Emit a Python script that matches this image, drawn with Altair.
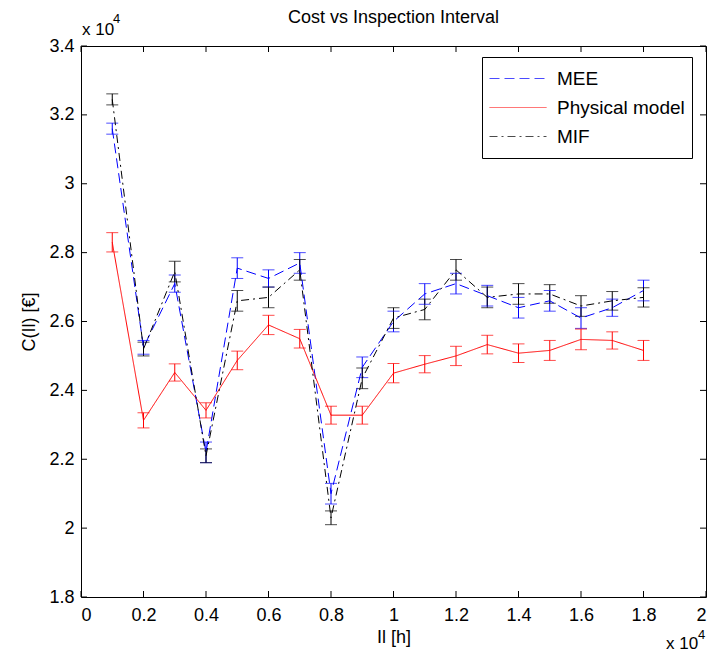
import altair as alt
import pandas as pd

# ---------------- data (real units; axes show values x 10^4) ----------------
inspection_interval = [1000, 2000, 3000, 4000, 5000, 6000, 7000, 8000, 9000,
                       10000, 11000, 12000, 13000, 14000, 15000, 16000, 17000, 18000]
series_names = ["MEE", "Physical model", "MIF"]

mee_cost = [31600, 25250, 27100, 22200, 27550, 27250, 27700, 21000, 24670,
            26000, 26800, 27100, 26750, 26400, 26600, 26100, 26400, 26900]
mee_err = [160, 200, 250, 300, 300, 250, 300, 300, 300,
           300, 300, 300, 300, 300, 300, 300, 250, 300]

phys_cost = [28300, 23130, 24520, 23420, 24870, 25900, 25500, 23280, 23280,
             24500, 24760, 25000, 25330, 25080, 25160, 25480, 25450, 25160]
phys_err = [280, 220, 250, 220, 270, 280, 270, 260, 260,
            280, 250, 280, 270, 270, 290, 300, 250, 290]

mif_cost = [32450, 25200, 27450, 22100, 26600, 26700, 27500, 20300, 24350,
            26100, 26350, 27500, 26700, 26800, 26800, 26450, 26600, 26700]
mif_err = [160, 200, 300, 200, 300, 300, 300, 200, 300,
           300, 300, 300, 300, 300, 270, 300, 270, 280]

x_ticks = [0, 2000, 4000, 6000, 8000, 10000, 12000, 14000, 16000, 18000, 20000]
y_ticks = [18000, 20000, 22000, 24000, 26000, 28000, 30000, 32000, 34000]

series_colors = ["#0000FF", "#FF0000", "#000000"]
series_dashes = [[10, 5], [1, 0], [8, 4, 2, 4]]

# ---------------- build table ----------------
rows = []
for name, vals, errs in zip(series_names, [mee_cost, phys_cost, mif_cost],
                            [mee_err, phys_err, mif_err]):
    for xv, v, e in zip(inspection_interval, vals, errs):
        rows.append({"x": xv, "series": name, "cost": v, "lo": v - e, "hi": v + e})
df = pd.DataFrame(rows)

W, H = 625, 551
FONT = "Liberation Sans"

xs = alt.Scale(domain=[0, 20000], nice=False, zero=False, padding=0)
ys = alt.Scale(domain=[18000, 34000], nice=False, zero=False, padding=0)
cs = alt.Scale(domain=series_names, range=series_colors)
ds = alt.Scale(domain=series_names, range=series_dashes)

legend_opts = dict(
    title=None, orient="none", legendX=401, legendY=11,
    symbolType="stroke", symbolSize=3249, symbolStrokeWidth=1,
    labelFont=FONT, labelFontSize=19, labelColor="black", labelOffset=10,
    clipHeight=29, rowPadding=0, padding=7,
    strokeColor="black", fillColor="white",
)


def color_enc():
    return alt.Color("series:N", scale=cs, legend=alt.Legend(**legend_opts))


x_enc = alt.X("x:Q", scale=xs, title="Il [h]",
              axis=alt.Axis(values=x_ticks, labelExpr="'' + (datum.value/10000)",
                            ticks=False, tickSize=0, domain=False, grid=False,
                            labelPadding=9, titlePadding=4))
y_enc = alt.Y("cost:Q", scale=ys, title="C(Il) [€]",
              axis=alt.Axis(values=y_ticks, labelExpr="'' + (datum.value/10000)",
                            ticks=False, tickSize=0, domain=False, grid=False,
                            labelPadding=7, titlePadding=10))

base = alt.Chart(df)

lines = base.mark_line(strokeWidth=1).encode(
    x=x_enc, y=y_enc,
    color=color_enc(),
    strokeDash=alt.StrokeDash("series:N", scale=ds, legend=alt.Legend(**legend_opts)),
)

err_rule = base.mark_rule(strokeWidth=1).encode(
    x=alt.X("x:Q", scale=xs),
    y=alt.Y("lo:Q", scale=ys),
    y2="hi:Q",
    color=color_enc(),
)
cap_lo = base.mark_tick(orient="horizontal", size=12, thickness=1).encode(
    x=alt.X("x:Q", scale=xs),
    y=alt.Y("lo:Q", scale=ys),
    color=color_enc(),
)
cap_hi = base.mark_tick(orient="horizontal", size=12, thickness=1).encode(
    x=alt.X("x:Q", scale=xs),
    y=alt.Y("hi:Q", scale=ys),
    color=color_enc(),
)

# inward ticks on all four sides (MATLAB style)
xt = alt.Chart(pd.DataFrame({"t": x_ticks}))
yt = alt.Chart(pd.DataFrame({"t": y_ticks}))
tick_bottom = xt.mark_rule(color="black", strokeWidth=1).encode(
    x=alt.X("t:Q", scale=xs), y=alt.value(H), y2=alt.value(H - 6))
tick_top = xt.mark_rule(color="black", strokeWidth=1).encode(
    x=alt.X("t:Q", scale=xs), y=alt.value(0), y2=alt.value(6))
tick_left = yt.mark_rule(color="black", strokeWidth=1).encode(
    y=alt.Y("t:Q", scale=ys), x=alt.value(0), x2=alt.value(6))
tick_right = yt.mark_rule(color="black", strokeWidth=1).encode(
    y=alt.Y("t:Q", scale=ys), x=alt.value(W - 6), x2=alt.value(W))

# title and exponent annotations
title_df = alt.Chart(pd.DataFrame({"a": ["Cost vs Inspection Interval"]}))
title_txt = title_df.mark_text(font=FONT, fontSize=18, align="center", baseline="alphabetic",
                               color="black").encode(text="a:N", x=alt.value(W / 2),
                                                     y=alt.value(-23))
ann = alt.Chart(pd.DataFrame({"a": ["x 10"]}))
ann4 = alt.Chart(pd.DataFrame({"a": ["4"]}))
exp_top = ann.mark_text(font=FONT, fontSize=17, align="left", baseline="alphabetic",
                        color="black").encode(text="a:N", x=alt.value(1), y=alt.value(-11))
exp_top4 = ann4.mark_text(font=FONT, fontSize=13, align="left", baseline="alphabetic",
                          color="black").encode(text="a:N", x=alt.value(32), y=alt.value(-23))
exp_bot = ann.mark_text(font=FONT, fontSize=17, align="left", baseline="alphabetic",
                        color="black").encode(text="a:N", x=alt.value(585), y=alt.value(H + 52))
exp_bot4 = ann4.mark_text(font=FONT, fontSize=13, align="left", baseline="alphabetic",
                          color="black").encode(text="a:N", x=alt.value(617), y=alt.value(H + 42))

chart = alt.layer(
    err_rule, cap_lo, cap_hi, lines,
    tick_bottom, tick_top, tick_left, tick_right,
    title_txt, exp_top, exp_top4, exp_bot, exp_bot4,
).properties(
    width=W, height=H,
    autosize=alt.AutoSizeParams(type="none"),
    padding={"left": 73, "top": 38, "right": 1, "bottom": 55},
    background="white",
).configure_view(
    stroke="black", strokeWidth=1
).configure_axis(
    labelFont=FONT, labelFontSize=18, labelColor="black",
    titleFont=FONT, titleFontSize=18, titleColor="black", titleFontWeight="normal",
)

chart.save("out.html", embed_options={"renderer": "svg", "actions": False})
